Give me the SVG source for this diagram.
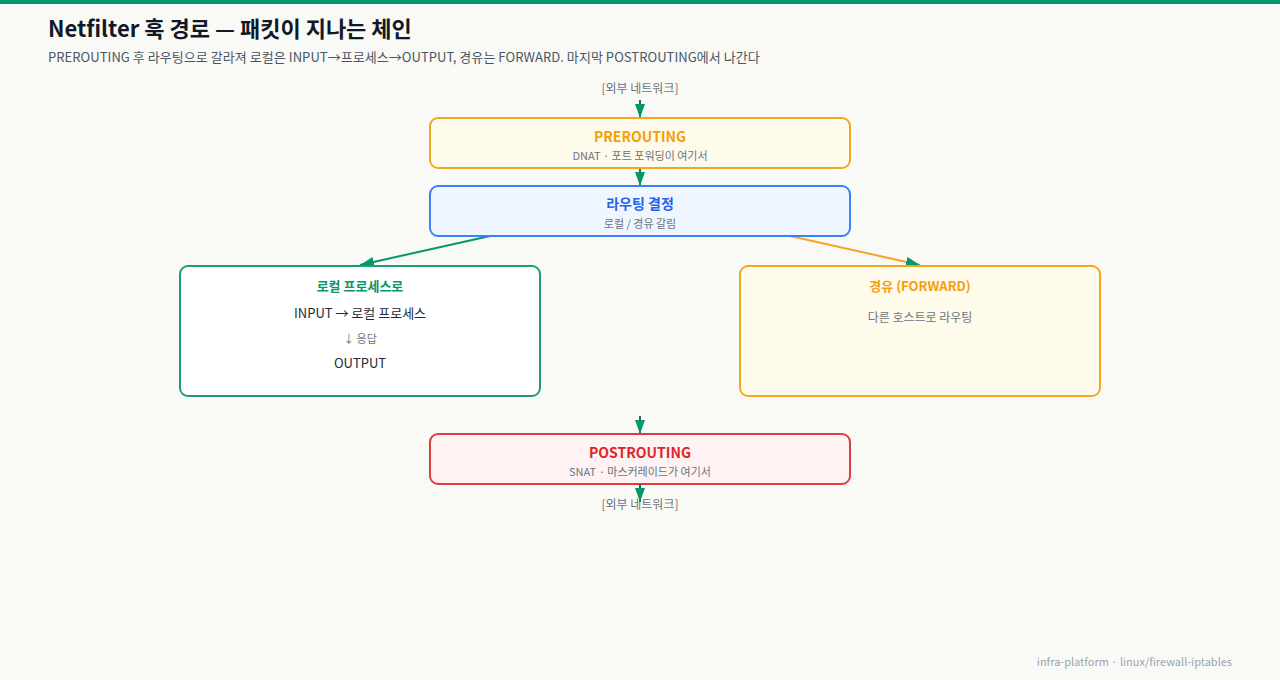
<svg xmlns="http://www.w3.org/2000/svg" width="1280" height="680" viewBox="0 0 1280 680">
<style>
text{font-family:"Noto Sans CJK KR","Noto Sans",sans-serif}
.t{font-weight:700;text-anchor:middle}
.s{font-size:11px;fill:#6b7280;text-anchor:middle}
.ext{font-size:12px;fill:#6b7280;text-anchor:middle}
.b{font-size:13px;fill:#1f2937;text-anchor:middle}
.conn line{stroke-width:2;fill:none}
</style>
<defs>
<marker id="ah" viewBox="0 0 14 10" refX="14" refY="5" markerWidth="14" markerHeight="10" markerUnits="userSpaceOnUse" orient="auto"><path d="M0,0L14,5L0,10z" fill="#059669"/></marker>
</defs>
<rect width="1280" height="680" fill="#f9faf6"/>
<rect width="1280" height="4" fill="#059669"/>
<text x="48" y="37" font-size="22" font-weight="700" fill="#111827">Netfilter 훅 경로 — 패킷이 지나는 체인</text>
<text x="48" y="62" font-size="13" fill="#4b5563" letter-spacing="0.05">PREROUTING 후 라우팅으로 갈라져 로컬은 INPUT→프로세스→OUTPUT, 경유는 FORWARD. 마지막 POSTROUTING에서 나간다</text>
<text class="ext" x="640" y="93">[외부 네트워크]</text>
<text class="ext" x="640" y="509">[외부 네트워크]</text>
<g class="conn">
<line x1="640" y1="100" x2="640" y2="118" stroke="#4b5563" marker-end="url(#ah)"/>
<line x1="640" y1="168" x2="640" y2="186" stroke="#4b5563" marker-end="url(#ah)"/>
<line x1="490" y1="236" x2="360" y2="265" stroke="#059669" marker-end="url(#ah)"/>
<line x1="790" y1="236" x2="920" y2="265" stroke="#f5a524" marker-end="url(#ah)"/>
<line x1="640" y1="416" x2="640" y2="434" stroke="#4b5563" marker-end="url(#ah)"/>
</g>
<g id="prerouting">
<rect x="430" y="118" width="420" height="50" rx="8" fill="#fffbeb" stroke="#f5a524" stroke-width="2"/>
<text class="t" x="640" y="142" font-size="14" fill="#f59e0b">PREROUTING</text>
<text class="s" x="640" y="160">DNAT · 포트 포워딩이 여기서</text>
</g>
<g id="routing">
<rect x="430" y="186" width="420" height="50" rx="8" fill="#eff6ff" stroke="#3b82f6" stroke-width="2"/>
<text class="t" x="640" y="209" font-size="14" fill="#2563eb">라우팅 결정</text>
<text class="s" x="640" y="228">로컬 / 경유 갈림</text>
</g>
<g id="local">
<rect x="180" y="266" width="360" height="130" rx="8" fill="#ffffff" stroke="#1f9d6f" stroke-width="2"/>
<text class="t" x="360" y="291" font-size="13" fill="#059669">로컬 프로세스로</text>
<text class="b" x="360" y="318">INPUT → 로컬 프로세스</text>
<text class="s" x="360" y="343">↓ 응답</text>
<text class="b" x="360" y="368">OUTPUT</text>
</g>
<g id="forward">
<rect x="740" y="266" width="360" height="130" rx="8" fill="#fffbeb" stroke="#f5a524" stroke-width="2"/>
<text class="t" x="920" y="291" font-size="13" fill="#f59e0b">경유 (FORWARD)</text>
<text x="920" y="322" font-size="12" fill="#6b7280" text-anchor="middle">다른 호스트로 라우팅</text>
</g>
<g id="postrouting">
<rect x="430" y="434" width="420" height="50" rx="8" fill="#fef2f2" stroke="#dc3f3f" stroke-width="2"/>
<text class="t" x="640" y="458" font-size="14" fill="#dc2626">POSTROUTING</text>
<text class="s" x="640" y="476">SNAT · 마스커레이드가 여기서</text>
</g>
<g class="conn">
<line x1="640" y1="484" x2="640" y2="502" stroke="#4b5563" marker-end="url(#ah)"/>
</g>
<text x="1232" y="666" font-size="11" fill="#9ca3af" text-anchor="end">infra-platform · linux/firewall-iptables</text>
</svg>
